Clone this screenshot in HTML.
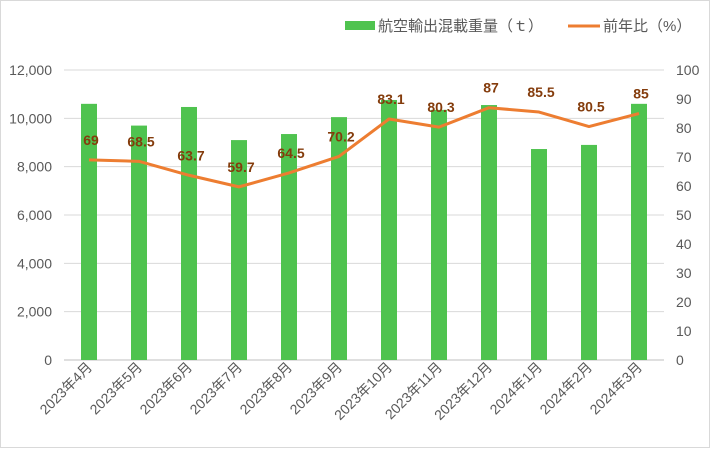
<!DOCTYPE html>
<html><head><meta charset="utf-8"><style>
body{margin:0;background:#fff;}
svg text{font-family:"Liberation Sans","Noto Sans CJK JP",sans-serif;}
</style></head><body>
<svg id="chart" width="710" height="448" xmlns="http://www.w3.org/2000/svg">
<rect x="0.5" y="0.5" width="709" height="447" fill="#fff" stroke="#d9d9d9"/>
<g id="legend">
<g><rect x="345" y="21" width="30" height="9" fill="#4fc34f"/><text x="378" y="31" font-size="15" fill="#595959">航空輸出混載重量（ｔ）</text></g>
<g><line x1="568" y1="26" x2="600" y2="26" stroke="#ed7d31" stroke-width="3"/><text x="603" y="31" font-size="15" fill="#595959">前年比（%）</text></g>
</g>
<g id="grid"></g><g id="bars"></g><g id="line"></g><g id="axes"></g>
</svg>
<script>
const categories=["2023年4月","2023年5月","2023年6月","2023年7月","2023年8月","2023年9月","2023年10月","2023年11月","2023年12月","2024年1月","2024年2月","2024年3月"];
const weights=[10600,9700,10470,9100,9350,10050,10760,10350,10550,8730,8900,10600];
const ratios=[69,68.5,63.7,59.7,64.5,70.2,83.1,80.3,87,85.5,80.5,85];
const leftTicks=[0,2000,4000,6000,8000,10000,12000];
const rightTicks=[0,10,20,30,40,50,60,70,80,90,100];
const NS="http://www.w3.org/2000/svg";
const X0=64,X1=664,Y0=360,Y1=70;
const band=(X1-X0)/categories.length;
const xc=i=>X0+band*(i+0.5);
const yl=v=>Y0-(v/12000)*(Y0-Y1);
const yr=v=>Y0-(v/100)*(Y0-Y1);
function mk(p,t,a){const e=document.createElementNS(NS,t);for(const k in a)e.setAttribute(k,a[k]);document.getElementById(p).appendChild(e);return e;}
leftTicks.forEach(v=>{
 const g=mk('grid','line',{x1:X0,x2:X1,y1:yl(v),y2:yl(v),stroke:v===0?'#bfbfbf':'#d9d9d9','stroke-width':1});
 
 
 const t=mk('axes','text',{x:52,y:yl(v)+5,'text-anchor':'end','font-size':14,fill:'#595959'});
 t.textContent=v.toLocaleString('en-US');
 
 
});
rightTicks.forEach(v=>{
 const t=mk('axes','text',{x:676,y:yr(v)+5,'font-size':14,fill:'#595959'});
 t.textContent=v;
 
 
});
categories.forEach((c,i)=>{
 const b=mk('bars','rect',{x:xc(i)-8,y:yl(weights[i]),width:16,height:Y0-yl(weights[i]),fill:'#4fc34f'});
 
 
 const x=xc(i)+4,y=368;
 const t=mk('axes','text',{x:x,y:y,'text-anchor':'end','font-size':14,fill:'#595959',transform:`rotate(-45 ${x} ${y})`});
 t.textContent=c;
 
 
});
const pts=ratios.map((v,i)=>xc(i)+','+yr(v)).join(' ');
const pl=mk('line','polyline',{points:pts,fill:'none',stroke:'#ed7d31','stroke-width':3,'stroke-linejoin':'round'});


ratios.forEach((v,i)=>{
 const t=mk('line','text',{x:xc(i)+2,y:yr(v)-15,'text-anchor':'middle','font-size':14,'font-weight':'bold',fill:'#843c0c'});
 t.textContent=v;
 
 
});
</script>
</body></html>
